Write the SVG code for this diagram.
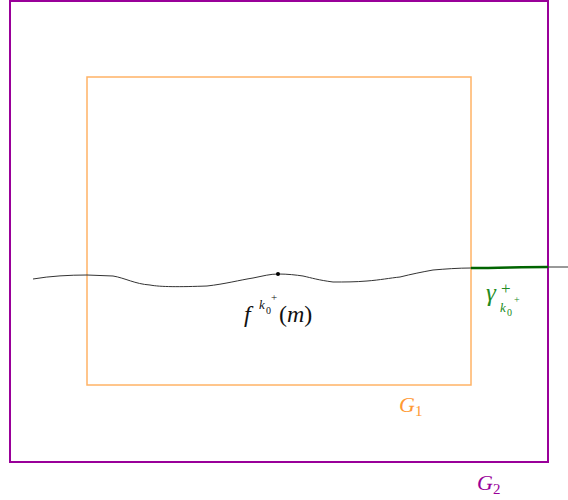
<svg xmlns="http://www.w3.org/2000/svg" width="568" height="500" viewBox="0 0 568 500">
<style>
text{font-family:'Liberation Serif','DejaVu Serif',serif}
.m{font-style:italic}
.u{font-style:normal}
</style>
<rect width="568" height="500" fill="#fff"/>
<g id="G2">
<rect x="10" y="1" width="538" height="461" fill="none" stroke="#990099" stroke-width="2"/>
<text class="m" x="477" y="490" font-size="22" fill="#990099">G<tspan font-size="15" font-style="normal" dy="4">2</tspan></text>
</g>
<g id="G1">
<rect x="87" y="77" width="384" height="308" fill="none" stroke="#ffb366" stroke-width="1.5"/>
<text class="m" x="399" y="412" font-size="22" fill="#ff9933">G<tspan font-size="15" font-style="normal" dy="4">1</tspan></text>
</g>
<g id="connectors">
<path d="M33,279 C50,276 70,275 87,275 L113,276 C125,278 135,284 150,285 C160,287 180,287 207,286 C225,284 240,280 253,278 C263,276 270,274 278,274 C288,274 296,275 303,276 C312,278 318,280 333,282 C345,282 355,282 367,281 C380,280 390,278 400,277 C412,274 422,272 433,270 C445,269 458,268 471,268" fill="none" stroke="#333" stroke-width="1"/>
<path d="M471,268 C500,268 520,267 548,267" fill="none" stroke="#006400" stroke-width="2.5"/>
<path d="M548,267 L568,267" fill="none" stroke="#333" stroke-width="1"/>
<circle cx="278" cy="274" r="2" fill="#000"/>
</g>
<g id="label-f">
<text class="m" x="244" y="322" font-size="24" fill="#111">f</text>
<text class="m" x="259" y="309" font-size="13" fill="#111">k</text>
<text class="u" x="266" y="314" font-size="10" fill="#111">0</text>
<text class="u" x="271" y="301" font-size="11" fill="#111">+</text>
<text class="u" x="279" y="322" font-size="24" fill="#111">(<tspan font-style="italic">m</tspan>)</text>
</g>
<g id="label-gamma">
<text class="m" x="486" y="301" font-size="25" fill="#228B22">γ</text>
<text class="u" x="501" y="294" font-size="17" fill="#228B22">+</text>
<text class="m" x="500" y="312" font-size="13" fill="#228B22">k</text>
<text class="u" x="507" y="316" font-size="10" fill="#228B22">0</text>
<text class="u" x="514" y="303" font-size="10" fill="#228B22">+</text>
</g>
</svg>
